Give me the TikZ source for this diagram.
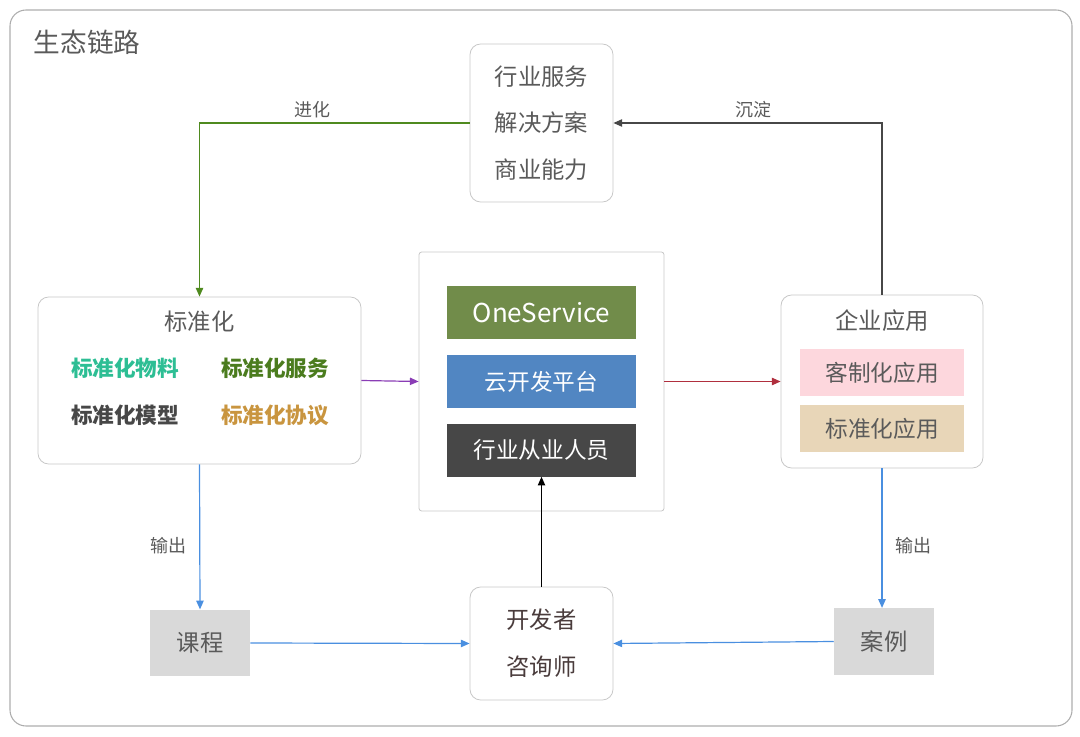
\documentclass[tikz,border=0pt]{standalone}
\usepackage{fontspec}
\setmainfont{Noto Sans CJK SC}
\usetikzlibrary{arrows.meta}

\definecolor{framegray}{HTML}{ADADAD}
\definecolor{boxgray}{HTML}{C8C8C8}
\definecolor{txtgray}{HTML}{5A5A5A}
\definecolor{evolgreen}{HTML}{4F8A1F}
\definecolor{teal}{HTML}{2DBE94}
\definecolor{srvgreen}{HTML}{4B7C1E}
\definecolor{protocol}{HTML}{C9953F}
\definecolor{olive}{HTML}{718C4A}
\definecolor{cloudblue}{HTML}{5186C2}
\definecolor{staffgray}{HTML}{474747}
\definecolor{flowblue}{HTML}{4A8FE0}
\definecolor{purple}{HTML}{8A3DB5}
\definecolor{wine}{HTML}{B02F3E}
\definecolor{pinkfill}{HTML}{FDD7DD}
\definecolor{tanfill}{HTML}{E8D6B8}
\definecolor{cardgray}{HTML}{D9D9D9}
\definecolor{devbrown}{HTML}{4A3C3C}

\begin{document}
\begin{tikzpicture}[x=0.75pt,y=-0.75pt,
    tip/.style={line width=0.9pt,-{Triangle[length=6.5pt,width=5.5pt]}},
    roundbox/.style={draw=boxgray,line width=0.6pt,rounded corners=8pt,fill=white},
    bar/.style={text=white,font=\fontsize{17}{20}\selectfont,
      minimum width=141.75pt,minimum height=39.75pt},
    tag/.style={text=txtgray,font=\fontsize{17}{20}\selectfont,
      minimum width=123pt,minimum height=35.25pt},
    card/.style={fill=cardgray,text=txtgray,font=\fontsize{17.5}{20}\selectfont,
      minimum width=75pt,minimum height=50pt},
    item/.style={font=\fontsize{16.2}{18}\selectfont\bfseries},
    lbl/.style={text=txtgray,font=\fontsize{13.5}{15}\selectfont}]
  \useasboundingbox (0,0) rectangle (1080,737);
  \draw[framegray,line width=0.8pt,rounded corners=12pt] (10,10) rectangle (1072,726);
  \node[text=txtgray,font=\fontsize{20}{24}\selectfont,anchor=west] (title) at (29,42) {生态链路};

  % top: services
  \node[roundbox,minimum width=107.25pt,minimum height=118.5pt,align=center,
    text=txtgray,font=\fontsize{17.5}{35}\selectfont] (biz) at (541.5,123)
    {行业服务\\解决方案\\商业能力};

  % left: standardisation
  \node[roundbox,minimum width=242.25pt,minimum height=125.25pt] (std) at (199.5,380.5) {};
  \node[text=txtgray,font=\fontsize{17.5}{20}\selectfont] (stdtitle) at (199.5,322) {标准化};
  \node[item,text=teal] (material) at (125,368) {标准化物料};
  \node[item,text=srvgreen] (service) at (275,368) {标准化服务};
  \node[item,text=staffgray] (model) at (125,415) {标准化模型};
  \node[item,text=protocol] (protocol) at (275,415) {标准化协议};

  % centre: platform
  \node[draw=boxgray,line width=0.6pt,rounded corners=2pt,minimum width=183.75pt,minimum height=194.25pt] (platform) at (541.5,381.5) {};
  \node[bar,fill=olive,font=\fontsize{19.5}{22}\selectfont] (oneservice) at (541.5,312.5) {OneService};
  \node[bar,fill=cloudblue] (cloud) at (541.5,381.5) {云开发平台};
  \node[bar,fill=staffgray] (staff) at (541.5,450) {行业从业人员};

  % right: applications
  \node[roundbox,minimum width=151.5pt,minimum height=129.75pt] (app) at (882,381.5) {};
  \node[text=txtgray,font=\fontsize{17.5}{20}\selectfont] (apptitle) at (882,321) {企业应用};
  \node[tag,fill=pinkfill] (custom) at (882,372.5) {客制化应用};
  \node[tag,fill=tanfill] (stdapp) at (882,428.5) {标准化应用};

  % bottom
  \node[card] (course) at (200,643) {课程};
  \node[card] (case) at (884,641.5) {案例};
  \node[roundbox,minimum width=107.25pt,minimum height=84.75pt,align=center,
    text=devbrown,font=\fontsize{17.5}{35}\selectfont] (dev) at (541.5,643.5)
    {开发者\\咨询师};

  % connectors
  \draw[tip,evolgreen] (biz.west) -| node[lbl,pos=0.29,above] (evol) {进化} (std.north);
  \draw[tip,staffgray] (app.north) |- node[lbl,pos=0.74,above] (settle) {沉淀} (biz.east);
  \draw[tip,purple] (std.east) -- (platform.west);
  \draw[tip,wine] (platform.east) -- (app.west);
  \draw[tip,flowblue] (std.south) -- node[lbl,pos=0.56,left=6pt] (outl) {输出} (course.north);
  \draw[tip,flowblue] (app.south) -- node[lbl,pos=0.55,right=6pt] (outr) {输出} (app.south |- case.north);
  \draw[tip,flowblue] (course.east) -- (dev.west);
  \draw[tip,flowblue] (case.west) -- (dev.east);
  \draw[tip,black] (dev.north) -- (staff.south);
\end{tikzpicture}
\end{document}
